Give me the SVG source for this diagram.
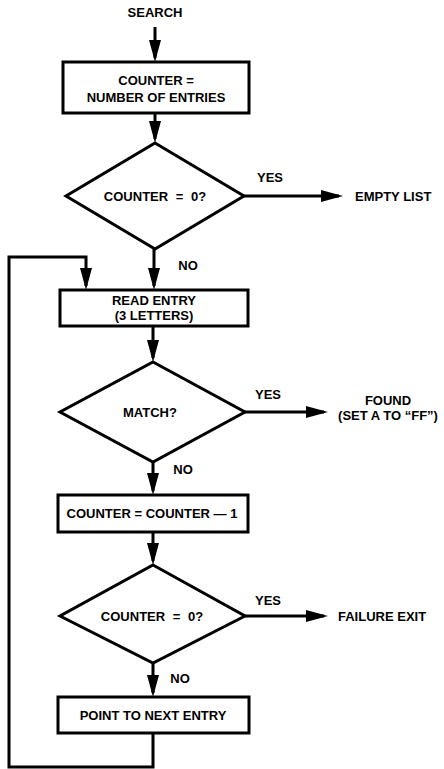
<svg xmlns="http://www.w3.org/2000/svg" width="444" height="769" viewBox="0 0 444 769">
<style>
.s{fill:#fff;stroke:#000;stroke-width:3}
.c{fill:none;stroke:#000;stroke-width:3}
.t{font-family:"Liberation Sans",Arial,sans-serif;font-size:13px;font-weight:bold;fill:#000}
.m{text-anchor:middle}
</style>
<defs>
<marker id="ah" markerUnits="userSpaceOnUse" markerWidth="22" markerHeight="12" refX="18" refY="6" orient="auto">
<path d="M0,0 L22,6 L0,12 z" fill="#000"/>
</marker>
</defs>
<rect width="444" height="769" fill="#fff"/>
<g id="connectors">
<line class="c" x1="155" y1="27" x2="155" y2="58" marker-end="url(#ah)"/>
<line class="c" x1="155" y1="113" x2="155" y2="139" marker-end="url(#ah)"/>
<line class="c" x1="244" y1="196" x2="339" y2="196" marker-end="url(#ah)"/>
<line class="c" x1="154" y1="249" x2="154" y2="286" marker-end="url(#ah)"/>
<line class="c" x1="153" y1="326" x2="153" y2="358" marker-end="url(#ah)"/>
<line class="c" x1="245" y1="412" x2="324" y2="412" marker-end="url(#ah)"/>
<line class="c" x1="153" y1="462" x2="153" y2="491" marker-end="url(#ah)"/>
<line class="c" x1="153" y1="532" x2="153" y2="561" marker-end="url(#ah)"/>
<line class="c" x1="245" y1="616" x2="324" y2="616" marker-end="url(#ah)"/>
<line class="c" x1="153" y1="663" x2="153" y2="693" marker-end="url(#ah)"/>
<path class="c" d="M153,733 V767 H9 V257 H86 V286" marker-end="url(#ah)"/>
<text class="t m" x="270" y="182">YES</text>
<text class="t m" x="188" y="270">NO</text>
<text class="t m" x="268" y="399">YES</text>
<text class="t m" x="183" y="474">NO</text>
<text class="t m" x="268" y="605">YES</text>
<text class="t m" x="180" y="683">NO</text>
</g>
<g id="start"><text class="t m" x="155" y="17">SEARCH</text></g>
<g id="init">
<rect class="s" x="63" y="62" width="186" height="51"/>
<text class="t m" x="156" y="85">COUNTER =</text>
<text class="t m" x="156" y="102">NUMBER OF ENTRIES</text>
</g>
<g id="check1">
<polygon class="s" points="155,143 244,196 155,249 66,196"/>
<text class="t m" x="155" y="201" word-spacing="4">COUNTER = 0?</text>
</g>
<g id="empty"><text class="t" x="355" y="201">EMPTY LIST</text></g>
<g id="read">
<rect class="s" x="60" y="290" width="188" height="36"/>
<text class="t m" x="154" y="305">READ ENTRY</text>
<text class="t m" x="154" y="320">(3 LETTERS)</text>
</g>
<g id="match">
<polygon class="s" points="153,362 245,412 153,462 60,412"/>
<text class="t m" x="150" y="417">MATCH?</text>
</g>
<g id="found">
<text class="t m" x="388" y="405">FOUND</text>
<text class="t m" x="388" y="420">(SET A TO “FF”)</text>
</g>
<g id="decrement">
<rect class="s" x="58" y="495" width="190" height="37"/>
<text class="t m" x="152" y="518">COUNTER = COUNTER — 1</text>
</g>
<g id="check2">
<polygon class="s" points="153,565 245,616 153,663 60,616"/>
<text class="t m" x="152" y="621" word-spacing="4">COUNTER = 0?</text>
</g>
<g id="failure"><text class="t" x="338" y="621">FAILURE EXIT</text></g>
<g id="next">
<rect class="s" x="58" y="697" width="191" height="36"/>
<text class="t m" x="153" y="720">POINT TO NEXT ENTRY</text>
</g>
</svg>
